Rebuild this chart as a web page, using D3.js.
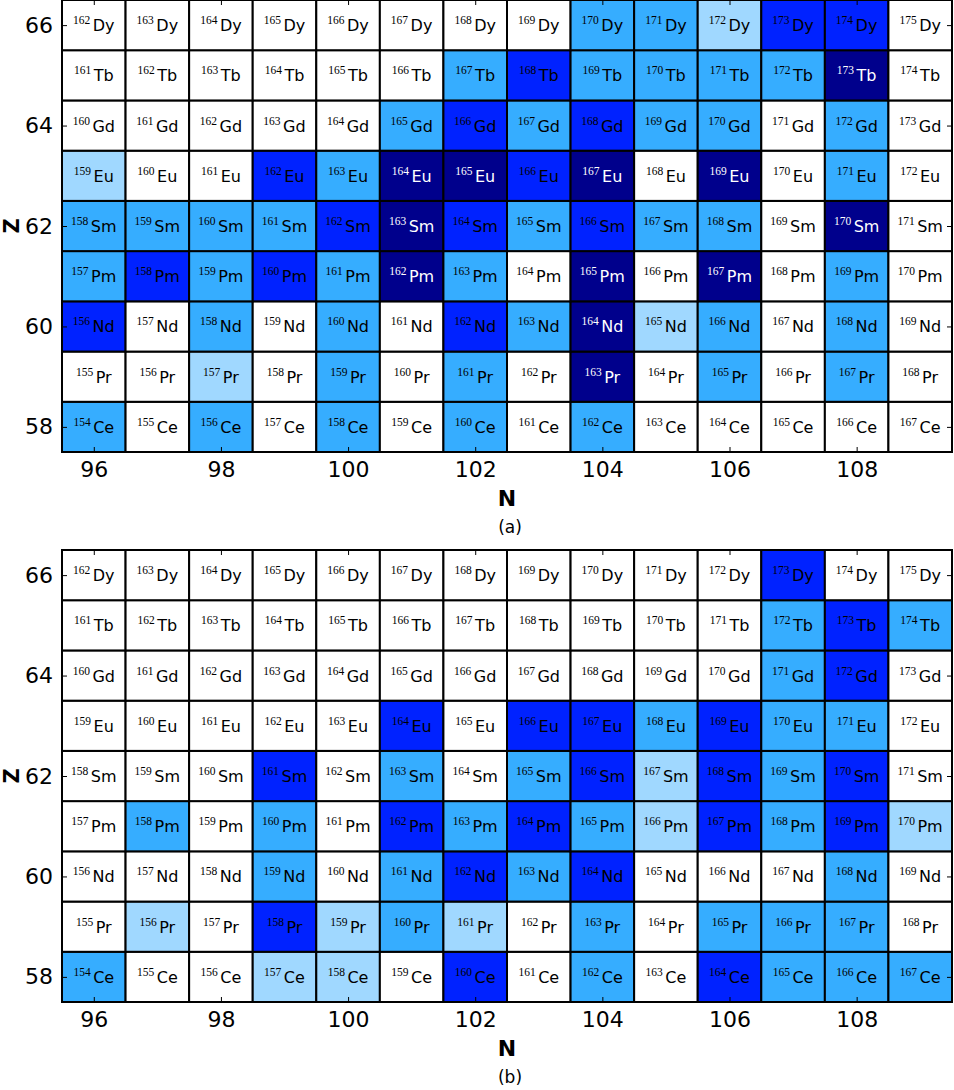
<!DOCTYPE html>
<html>
<head>
<meta charset="utf-8">
<script src="https://cdn.jsdelivr.net/npm/d3@7"></script>
<style>
  body { margin: 0; background: #fff; }
  svg { display: block; }
</style>
</head>
<body>
<div id="chart"></div>
<script>
// neutron numbers (columns) and proton numbers (rows, bottom to top)
const neutrons = [96, 97, 98, 99, 100, 101, 102, 103, 104, 105, 106, 107, 108, 109];
const protons = [58, 59, 60, 61, 62, 63, 64, 65, 66];
const elements = ["Ce", "Pr", "Nd", "Pm", "Sm", "Eu", "Gd", "Tb", "Dy"];
const xTicks = [96, 98, 100, 102, 104, 106, 108];
const yTicks = [58, 60, 62, 64, 66];

// 0 white, 1 light, 2 medium, 3 bright blue, 4 navy
const levelColors = ["#ffffff", "#a0d8ff", "#36adff", "#0022ff", "#00008c"];

// panel (a), rows Z=58..66
const levelsA = [
  [2, 0, 2, 0, 2, 0, 2, 0, 2, 0, 0, 0, 0, 0],
  [0, 0, 1, 0, 2, 0, 2, 0, 4, 0, 2, 0, 2, 0],
  [3, 0, 2, 0, 2, 0, 3, 2, 4, 1, 2, 0, 2, 0],
  [2, 3, 2, 3, 2, 4, 2, 0, 4, 0, 4, 0, 2, 0],
  [2, 2, 2, 2, 3, 4, 3, 2, 3, 2, 2, 0, 4, 0],
  [1, 0, 0, 3, 2, 4, 4, 3, 4, 0, 4, 0, 2, 0],
  [0, 0, 0, 0, 0, 2, 3, 2, 3, 2, 2, 0, 2, 0],
  [0, 0, 0, 0, 0, 0, 2, 3, 2, 2, 2, 2, 4, 0],
  [0, 0, 0, 0, 0, 0, 0, 0, 2, 2, 1, 3, 3, 0]
];

// panel (b), rows Z=58..66
const levelsB = [
  [2, 0, 0, 1, 1, 0, 3, 0, 2, 0, 3, 2, 2, 2],
  [0, 1, 0, 3, 1, 2, 1, 0, 2, 0, 2, 2, 2, 0],
  [0, 0, 0, 2, 0, 2, 3, 2, 3, 0, 0, 0, 2, 0],
  [0, 2, 0, 2, 0, 3, 2, 3, 2, 1, 3, 2, 3, 1],
  [0, 0, 0, 3, 0, 2, 0, 2, 3, 1, 3, 2, 3, 0],
  [0, 0, 0, 0, 0, 3, 0, 3, 3, 2, 3, 2, 2, 0],
  [0, 0, 0, 0, 0, 0, 0, 0, 0, 0, 0, 2, 3, 0],
  [0, 0, 0, 0, 0, 0, 0, 0, 0, 0, 0, 2, 3, 2],
  [0, 0, 0, 0, 0, 0, 0, 0, 0, 0, 0, 3, 0, 0]
];

const width = 954, height = 1090;
const left = 62, right = 952, panelH = 452;

const svg = d3.select("#chart").append("svg")
  .attr("width", width).attr("height", height);

drawPanel(levelsA, 0, "(a)");
drawPanel(levelsB, 550, "(b)");

function drawPanel(levels, top, label) {
  const g = svg.append("g");
  const x = d3.scaleLinear().domain([95.5, 109.5]).range([left, right]);
  const y = d3.scaleLinear().domain([57.5, 66.5]).range([top + panelH, top]);

  const cells = [];
  protons.forEach((z, i) => {
    neutrons.forEach((n, j) => {
      cells.push({ n: n, z: z, a: n + z, el: elements[i], lvl: levels[i][j] });
    });
  });

  g.selectAll("rect.cell")
    .data(cells)
    .join("rect")
    .attr("class", "cell")
    .attr("x", d => x(d.n - 0.5))
    .attr("y", d => y(d.z + 0.5))
    .attr("width", d => x(d.n + 0.5) - x(d.n - 0.5))
    .attr("height", d => y(d.z - 0.5) - y(d.z + 0.5))
    .attr("fill", d => levelColors[d.lvl])
    .attr("stroke", "#000")
    .attr("stroke-width", 2);

  // axes, ticks pointing inward
  const axes = [
    { ax: d3.axisBottom(x).tickValues(xTicks), t: `translate(0,${top + panelH})`, lab: true },
    { ax: d3.axisTop(x).tickValues(xTicks), t: `translate(0,${top})`, lab: false },
    { ax: d3.axisLeft(y).tickValues(yTicks), t: `translate(${left},0)`, lab: true },
    { ax: d3.axisRight(y).tickValues(yTicks), t: `translate(${right},0)`, lab: false }
  ];
  axes.forEach(a => {
    a.ax.tickSize(-5).tickPadding(a.lab ? 9 : 0);
    if (!a.lab) a.ax.tickFormat("");
    const ag = g.append("g").attr("transform", a.t).call(a.ax);
    ag.select(".domain").remove();
    ag.selectAll("line").attr("stroke", "#000").attr("stroke-width", 1);
    ag.selectAll("text")
      .attr("font-family", "DejaVu Sans")
      .attr("font-size", 22)
      .attr("fill", "#000");
  });

  // isotope labels
  const txt = g.selectAll("text.iso")
    .data(cells)
    .join("text")
    .attr("class", "iso")
    .attr("x", d => x(d.n))
    .attr("y", d => y(d.z) + 6)
    .attr("text-anchor", "middle")
    .attr("fill", d => d.lvl === 4 ? "#fff" : "#000");
  txt.append("tspan")
    .attr("font-family", "Liberation Serif")
    .attr("font-size", 11.5)
    .attr("dy", -7)
    .text(d => d.a);
  txt.append("tspan")
    .attr("font-family", "DejaVu Sans")
    .attr("font-size", 16)
    .attr("dx", 2.5)
    .attr("dy", 7)
    .text(d => d.el);

  // axis titles
  g.append("text")
    .attr("x", (left + right) / 2)
    .attr("y", top + panelH + 54)
    .attr("text-anchor", "middle")
    .attr("font-family", "DejaVu Sans")
    .attr("font-weight", "bold")
    .attr("font-size", 22)
    .text("N");
  g.append("text")
    .attr("transform", `translate(19,${top + panelH / 2}) rotate(-90)`)
    .attr("text-anchor", "middle")
    .attr("font-family", "DejaVu Sans")
    .attr("font-weight", "bold")
    .attr("font-size", 21)
    .text("Z");
  g.append("text")
    .attr("x", (left + right) / 2 + 3)
    .attr("y", top + panelH + 81)
    .attr("text-anchor", "middle")
    .attr("font-family", "DejaVu Sans")
    .attr("font-size", 17)
    .text(label);
}
</script>
</body>
</html>
